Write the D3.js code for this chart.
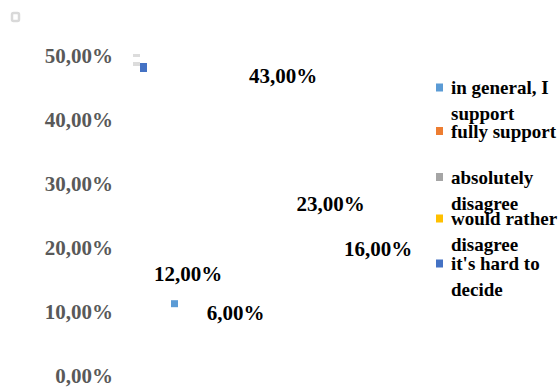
<!DOCTYPE html>
<html>
<head>
<meta charset="utf-8">
<script src="https://cdn.jsdelivr.net/npm/d3@7"></script>
<style>
  html, body { margin: 0; padding: 0; background: #fff; }
  svg { display: block; }
  text { font-family: "Liberation Serif", "Times New Roman", serif; font-weight: bold; }
</style>
</head>
<body>
<svg id="chart" width="560" height="387"></svg>
<script>
// Survey answers, in the order the value labels run across the plot
const series = ["in general, I support", "fully support", "absolutely disagree", "would rather disagree", "it's hard to decide"];
const values = [12, 6, 43, 23, 16];
const colors = ["#5B9BD5", "#ED7D31", "#A5A5A5", "#FFC000", "#4472C4"];
// Legend labels, wrapped as they are drawn
const legendLines = [["in general, I", "support"], ["fully support"], ["absolutely", "disagree"], ["would rather", "disagree"], ["it's hard to", "decide"]];
const yTicks = [0, 10, 20, 30, 40, 50];

const fmt = v => d3.format(".2f")(v).replace(".", ",") + "%";

const svg = d3.select("#chart");

const y = d3.scaleLinear().domain([0, 50]).range([376, 56]);
const x = d3.scalePoint().domain(series).range([188, 378]);

// Value axis: labels only, no line or ticks
const axis = svg.append("g")
  .attr("transform", "translate(113,0)")
  .call(d3.axisLeft(y).tickValues(yTicks).tickSize(0).tickPadding(0).tickFormat(fmt));
axis.select(".domain").remove();
axis.selectAll("text")
  .attr("font-family", "Liberation Serif, serif")
  .attr("font-weight", "bold")
  .attr("font-size", 21)
  .attr("fill", "#595959")
  .attr("dy", "0.3em");

// Data labels sitting above each value
svg.append("g").selectAll("text")
  .data(series)
  .join("text")
  .attr("x", d => x(d))
  .attr("y", (d, i) => y(values[i]) - 18)
  .attr("text-anchor", "middle")
  .attr("font-size", 21)
  .attr("fill", "#000")
  .text((d, i) => fmt(values[i]));

// Small series markers left in the plot area
svg.append("rect")
  .attr("x", x(series[0]) - 17).attr("y", y(values[0]) + 1)
  .attr("width", 7).attr("height", 7)
  .attr("fill", colors[0]);
svg.append("rect").attr("x", 140).attr("y", 63).attr("width", 7).attr("height", 9).attr("fill", colors[4]);
svg.append("rect").attr("x", 133).attr("y", 54).attr("width", 7).attr("height", 3).attr("fill", "#dcdcdc");
svg.append("rect").attr("x", 133).attr("y", 62).attr("width", 7).attr("height", 4).attr("fill", "#dcdcdc");

// Frame handle in the corner
svg.append("rect")
  .attr("x", 12).attr("y", 13).attr("width", 7).attr("height", 8).attr("rx", 1.5)
  .attr("fill", "#fff").attr("stroke", "#d9d9d9").attr("stroke-width", 2.5);

// Legend
const legendTop = [87.5, 131, 177, 218.5, 263.5];
const legend = svg.append("g").selectAll("g")
  .data(series)
  .join("g")
  .attr("transform", (d, i) => `translate(436,${legendTop[i]})`);
legend.append("rect")
  .attr("x", 0).attr("y", -4).attr("width", 7).attr("height", 8)
  .attr("fill", (d, i) => colors[i]);
legend.append("text")
  .attr("x", 15)
  .attr("y", 6.5)
  .attr("font-size", 19)
  .attr("fill", "#000")
  .selectAll("tspan")
  .data((d, i) => legendLines[i])
  .join("tspan")
  .attr("x", 15)
  .attr("dy", (d, j) => j === 0 ? 0 : 26)
  .text(d => d);
</script>
</body>
</html>
